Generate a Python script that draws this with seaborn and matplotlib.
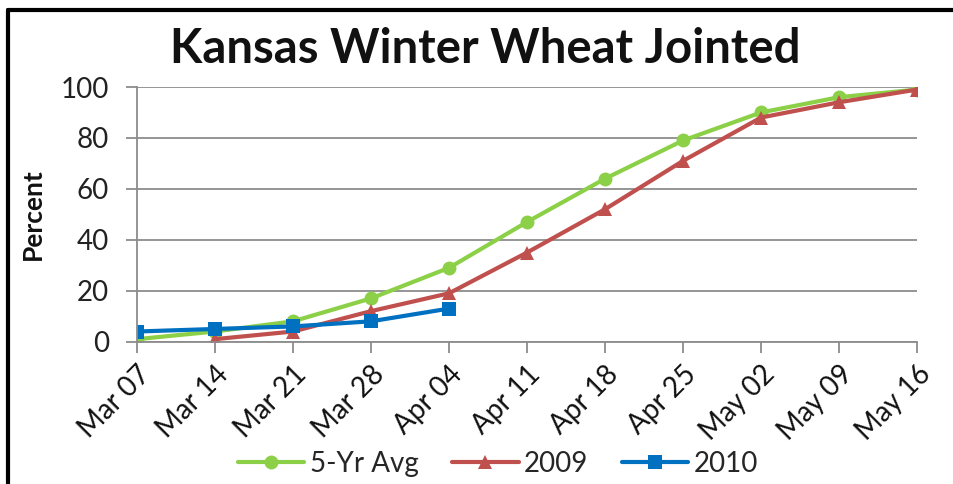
import matplotlib
matplotlib.use("Agg")
import matplotlib.pyplot as plt
import seaborn as sns
import pandas as pd
import numpy as np
from matplotlib.lines import Line2D

weeks = ["Mar 07", "Mar 14", "Mar 21", "Mar 28", "Apr 04", "Apr 11",
         "Apr 18", "Apr 25", "May 02", "May 09", "May 16"]
avg5 = [1, 4, 8, 17, 29, 47, 64, 79, 90, 96, 99]
y2009 = [None, 1, 4, 12, 19, 35, 52, 71, 88, 94, 99]
y2010 = [4, 5, 6, 8, 13, None, None, None, None, None, None]
series_names = ["5-Yr Avg", "2009", "2010"]
yticks = [0, 20, 40, 60, 80, 100]

colors = {"5-Yr Avg": "#8CD048", "2009": "#C0504D", "2010": "#0070C0"}
markers = {"5-Yr Avg": "o", "2009": "^", "2010": "s"}

rows = []
for name, vals in zip(series_names, [avg5, y2009, y2010]):
    for i, (w, v) in enumerate(zip(weeks, vals)):
        if v is not None:
            rows.append({"week": w, "idx": i, "value": v, "series": name})
df = pd.DataFrame(rows)

sns.set_theme(style="white")
plt.rcParams["font.family"] = ["Lato", "DejaVu Sans"]

fig = plt.figure(figsize=(9.54, 4.84), dpi=100)
ax = fig.add_axes([137/954, 1 - 341.7/484, (917-137)/954, (341.7-87)/484])

for name in series_names:
    sub = df[df["series"] == name]
    sns.lineplot(data=sub, x="idx", y="value", ax=ax, color=colors[name],
                 marker=markers[name], markersize=10, markeredgewidth=0,
                 linewidth=3, label=name, legend=False)

ax.set_xlim(0, len(weeks) - 1)
ax.set_ylim(0, 100)
ax.set_yticks(yticks)
ax.set_yticklabels([str(t) for t in yticks], fontsize=20, color="#222222")
ax.set_xticks(range(len(weeks)))
ax.set_xticklabels(weeks, rotation=45, ha="right", rotation_mode="anchor",
                   fontsize=20, color="#111111")
ax.set_xlabel("")
ax.set_ylabel("")
fig.text(33/954, 1 - 214/484, "Percent", rotation=90, ha="center", va="center",
         fontsize=19, fontweight="bold", color="#111111")
ax.grid(axis="y", color="#8c8c8c", linewidth=1.3)
ax.set_axisbelow(True)
for s in ["top", "right"]:
    ax.spines[s].set_visible(False)
for s in ["left", "bottom"]:
    ax.spines[s].set_color("#8c8c8c")
    ax.spines[s].set_linewidth(1.3)
ax.tick_params(axis="both", which="both", direction="out", length=8,
               width=1.3, color="#8c8c8c", bottom=True, left=True)
ax.tick_params(axis="x", pad=6)
ax.tick_params(axis="y", pad=12)

fig.text(485/954, 1 - 49/484, "Kansas Winter Wheat Jointed", ha="center",
         va="center", fontsize=34, fontweight="bold", color="#111111")

handles = [Line2D([0], [0], color=colors[n], marker=markers[n], markersize=10,
                  markeredgewidth=0, linewidth=3) for n in series_names]
fig.legend(handles, series_names, loc="center", bbox_to_anchor=(498/954, 1 - 464/484),
           ncol=3, frameon=False, fontsize=20, handlelength=2.4,
           columnspacing=1.2, handletextpad=0.2)

fig.add_artist(Line2D([8/954, 1], [1 - 10/484, 1 - 10/484], transform=fig.transFigure,
                      color="black", linewidth=3))
fig.add_artist(Line2D([8/954, 8/954], [0, 1 - 10/484], transform=fig.transFigure,
                      color="black", linewidth=3))

fig.savefig("out.png", dpi=100, facecolor="white")
